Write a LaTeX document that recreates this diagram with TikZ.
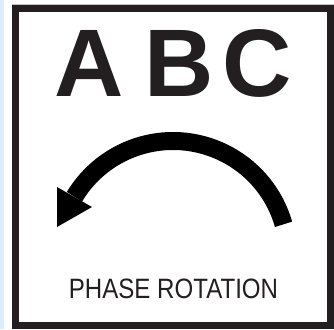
\documentclass[tikz,border=0pt]{standalone}
\usepackage{fontspec}
\setmainfont{Liberation Sans}
\usepackage{graphicx}
\definecolor{ink}{HTML}{231F20}
\definecolor{strip}{HTML}{DDEEFA}
\begin{document}
\begin{tikzpicture}[x=1pt,y=-1pt,
  letter/.style={anchor=base,inner sep=0pt,text=ink,font=\fontsize{96}{96}\selectfont\bfseries},
  caption/.style={anchor=base,inner sep=0pt,text=ink}]
\useasboundingbox (0,0) rectangle (334,329);
\fill[white] (0,0) rectangle (334,329);
\fill[strip] (0,0) rectangle (4,329);
\draw[gray!50,line width=0.8pt] (12,4.4) -- (334,4.4);
\draw[ink,line width=7pt] (15.5,8.5) rectangle (330.5,325.5);
\node[letter] (A) at (89,96) {A};
\node[letter] (B) at (179,96) {B};
\node[letter] (C) at (257,96) {C};
\node[caption] (cap) at (173.5,298) {\scalebox{0.86}[1]{\fontsize{28}{28}\selectfont PHASE ROTATION}};
% arrow
\draw[black,line width=18pt] (173,256) ++(-16:115) arc[start angle=-16,end angle=-149,radius=115];
\fill[black] (57,187) -- (92,207) -- (57,227) -- cycle;
\end{tikzpicture}
\end{document}
